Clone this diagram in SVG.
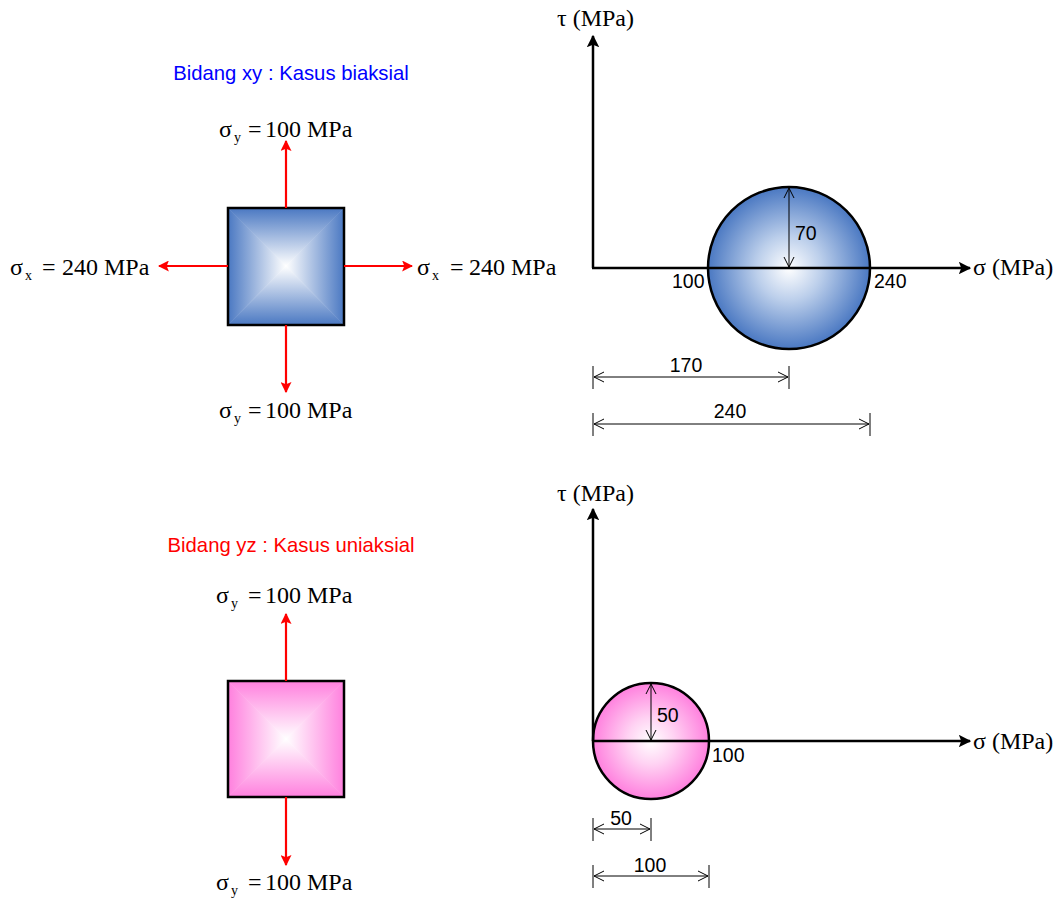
<svg xmlns="http://www.w3.org/2000/svg" width="1057" height="902" viewBox="0 0 1057 902">
<style>
.serif{font-family:"Liberation Serif","Times New Roman",serif;font-size:24px;fill:#000}
.ax{font-size:24px}
.sub{font-size:14px}
.sans{font-family:"Liberation Sans",Arial,sans-serif;font-size:19.5px;fill:#000}
.title{font-family:"Liberation Sans",Arial,sans-serif;font-size:20.3px}
.force{stroke:#ff0000;stroke-width:2.2;fill:none;marker-end:url(#redArrow)}
.axis{stroke:#000;stroke-width:2.5;fill:none;marker-end:url(#blkArrow)}
.dim{stroke:#000;stroke-width:1;fill:none;marker-start:url(#openArrow);marker-end:url(#openArrow)}
.tick{stroke:#000;stroke-width:1}
.edge{stroke:#000;stroke-width:2.5}
</style>
<defs>
<marker id="redArrow" viewBox="0 0 10 10" refX="9" refY="5" markerWidth="5" markerHeight="5" orient="auto" markerUnits="strokeWidth">
<path d="M0,0 L10,5 L0,10 L2,5 Z" fill="#ff0000"/>
</marker>
<marker id="blkArrow" viewBox="0 0 10 10" refX="9" refY="5" markerWidth="5" markerHeight="5" orient="auto" markerUnits="strokeWidth">
<path d="M0,0 L10,5 L0,10 L2,5 Z" fill="#000"/>
</marker>
<marker id="openArrow" viewBox="0 0 12 12" refX="11" refY="6" markerWidth="12" markerHeight="12" orient="auto-start-reverse" markerUnits="userSpaceOnUse">
<path d="M1,1 L11,6 L1,11" fill="none" stroke="#000" stroke-width="1"/>
</marker>
<linearGradient id="bT" x1="0" y1="0" x2="0" y2="1"><stop offset="0" stop-color="#4a78c2"/><stop offset="1" stop-color="#ffffff"/></linearGradient>
<linearGradient id="bB" x1="0" y1="1" x2="0" y2="0"><stop offset="0" stop-color="#4a78c2"/><stop offset="1" stop-color="#ffffff"/></linearGradient>
<linearGradient id="bL" x1="0" y1="0" x2="1" y2="0"><stop offset="0" stop-color="#4a78c2"/><stop offset="1" stop-color="#ffffff"/></linearGradient>
<linearGradient id="bR" x1="1" y1="0" x2="0" y2="0"><stop offset="0" stop-color="#4a78c2"/><stop offset="1" stop-color="#ffffff"/></linearGradient>
<linearGradient id="pT" x1="0" y1="0" x2="0" y2="1"><stop offset="0" stop-color="#ff80de"/><stop offset="1" stop-color="#ffffff"/></linearGradient>
<linearGradient id="pB" x1="0" y1="1" x2="0" y2="0"><stop offset="0" stop-color="#ff80de"/><stop offset="1" stop-color="#ffffff"/></linearGradient>
<linearGradient id="pL" x1="0" y1="0" x2="1" y2="0"><stop offset="0" stop-color="#ff80de"/><stop offset="1" stop-color="#ffffff"/></linearGradient>
<linearGradient id="pR" x1="1" y1="0" x2="0" y2="0"><stop offset="0" stop-color="#ff80de"/><stop offset="1" stop-color="#ffffff"/></linearGradient>
<radialGradient id="bCirc" cx="0.5" cy="0.5" r="0.5"><stop offset="0" stop-color="#ffffff"/><stop offset="0.4" stop-color="#bccfeb"/><stop offset="1" stop-color="#4a78c2"/></radialGradient>
<radialGradient id="pCirc" cx="0.5" cy="0.5" r="0.5"><stop offset="0" stop-color="#ffffff"/><stop offset="0.4" stop-color="#ffd3f3"/><stop offset="1" stop-color="#ff80de"/></radialGradient>
</defs>
<rect width="1057" height="902" fill="#ffffff"/>

<!-- ===== Top: biaxial ===== -->
<g id="title-xy">
<text class="title" x="291" y="80" text-anchor="middle" fill="#0000ff">Bidang xy : Kasus biaksial</text>
</g>
<g id="element-xy">
<polygon points="228,208 344,208 286,266" fill="url(#bT)" stroke="url(#bT)" stroke-width="0.5"/>
<polygon points="228,325 344,325 286,266" fill="url(#bB)" stroke="url(#bB)" stroke-width="0.5"/>
<polygon points="228,208 228,325 286,266" fill="url(#bL)" stroke="url(#bL)" stroke-width="0.5"/>
<polygon points="344,208 344,325 286,266" fill="url(#bR)" stroke="url(#bR)" stroke-width="0.5"/>
<rect x="228" y="208" width="116" height="117" fill="none" class="edge"/>
</g>
<g id="forces-xy">
<line x1="286" y1="208" x2="286" y2="141" class="force"/>
<line x1="286" y1="325" x2="286" y2="392" class="force"/>
<line x1="228" y1="266" x2="159" y2="266" class="force"/>
<line x1="344" y1="266" x2="412" y2="266" class="force"/>
</g>
<g id="labels-xy">
<text class="serif" x="219" y="137">σ<tspan class="sub" x="234" dy="5">y</tspan><tspan x="248" dy="-5">=</tspan><tspan x="265">100 MPa</tspan></text>
<text class="serif" x="219" y="418">σ<tspan class="sub" x="234" dy="5">y</tspan><tspan x="248" dy="-5">=</tspan><tspan x="265">100 MPa</tspan></text>
<text class="serif" x="10" y="275">σ<tspan class="sub" x="25" dy="5">x</tspan><tspan x="42" dy="-5">=</tspan><tspan x="62">240 MPa</tspan></text>
<text class="serif" x="417" y="275">σ<tspan class="sub" x="432" dy="5">x</tspan><tspan x="450" dy="-5">=</tspan><tspan x="469">240 MPa</tspan></text>
</g>

<g id="mohr-xy">
<circle cx="789" cy="268" r="81" fill="url(#bCirc)" stroke="#000" stroke-width="2.5"/>
</g>
<g id="axes-xy">
<line x1="593" y1="268" x2="593" y2="36" class="axis"/>
<line x1="592" y1="268" x2="970" y2="268" class="axis"/>
<text class="serif ax" x="557" y="26">τ (MPa)</text>
<text class="serif ax" x="973" y="275">σ (MPa)</text>
<text class="sans" x="672" y="288">100</text>
<text class="sans" x="874" y="288">240</text>
</g>
<g id="dims-xy">
<line x1="789" y1="188" x2="789" y2="267" class="dim"/>
<text class="sans" x="795" y="240">70</text>
<line x1="593" y1="366" x2="593" y2="389" class="tick"/>
<line x1="789" y1="366" x2="789" y2="389" class="tick"/>
<line x1="594" y1="377" x2="788" y2="377" class="dim"/>
<text class="sans" x="686" y="372" text-anchor="middle">170</text>
<line x1="593" y1="413" x2="593" y2="436" class="tick"/>
<line x1="870" y1="413" x2="870" y2="436" class="tick"/>
<line x1="594" y1="424" x2="869" y2="424" class="dim"/>
<text class="sans" x="730" y="418" text-anchor="middle">240</text>
</g>

<!-- ===== Bottom: uniaxial ===== -->
<g id="title-yz">
<text class="title" x="291" y="552" text-anchor="middle" fill="#ff0000">Bidang yz : Kasus uniaksial</text>
</g>
<g id="element-yz">
<polygon points="228,681 344,681 286,739" fill="url(#pT)" stroke="url(#pT)" stroke-width="0.5"/>
<polygon points="228,797 344,797 286,739" fill="url(#pB)" stroke="url(#pB)" stroke-width="0.5"/>
<polygon points="228,681 228,797 286,739" fill="url(#pL)" stroke="url(#pL)" stroke-width="0.5"/>
<polygon points="344,681 344,797 286,739" fill="url(#pR)" stroke="url(#pR)" stroke-width="0.5"/>
<rect x="228" y="681" width="116" height="116" fill="none" class="edge"/>
</g>
<g id="forces-yz">
<line x1="286" y1="681" x2="286" y2="614" class="force"/>
<line x1="286" y1="797" x2="286" y2="865" class="force"/>
</g>
<g id="labels-yz">
<text class="serif" x="216" y="603">σ<tspan class="sub" x="231" dy="5">y</tspan><tspan x="248" dy="-5">=</tspan><tspan x="265">100 MPa</tspan></text>
<text class="serif" x="216" y="890">σ<tspan class="sub" x="231" dy="5">y</tspan><tspan x="248" dy="-5">=</tspan><tspan x="265">100 MPa</tspan></text>
</g>

<g id="mohr-yz">
<circle cx="651" cy="741" r="58" fill="url(#pCirc)" stroke="#000" stroke-width="2.5"/>
</g>
<g id="axes-yz">
<line x1="593" y1="741" x2="593" y2="509" class="axis"/>
<line x1="592" y1="741" x2="970" y2="741" class="axis"/>
<text class="serif ax" x="557" y="501">τ (MPa)</text>
<text class="serif ax" x="973" y="749">σ (MPa)</text>
<text class="sans" x="712" y="762">100</text>
</g>
<g id="dims-yz">
<line x1="651" y1="684" x2="651" y2="740" class="dim"/>
<text class="sans" x="657" y="722">50</text>
<line x1="593" y1="818" x2="593" y2="841" class="tick"/>
<line x1="651" y1="818" x2="651" y2="841" class="tick"/>
<line x1="594" y1="829" x2="650" y2="829" class="dim"/>
<text class="sans" x="621" y="825" text-anchor="middle">50</text>
<line x1="593" y1="865" x2="593" y2="888" class="tick"/>
<line x1="709" y1="865" x2="709" y2="888" class="tick"/>
<line x1="594" y1="876" x2="708" y2="876" class="dim"/>
<text class="sans" x="650" y="872" text-anchor="middle">100</text>
</g>
</svg>
